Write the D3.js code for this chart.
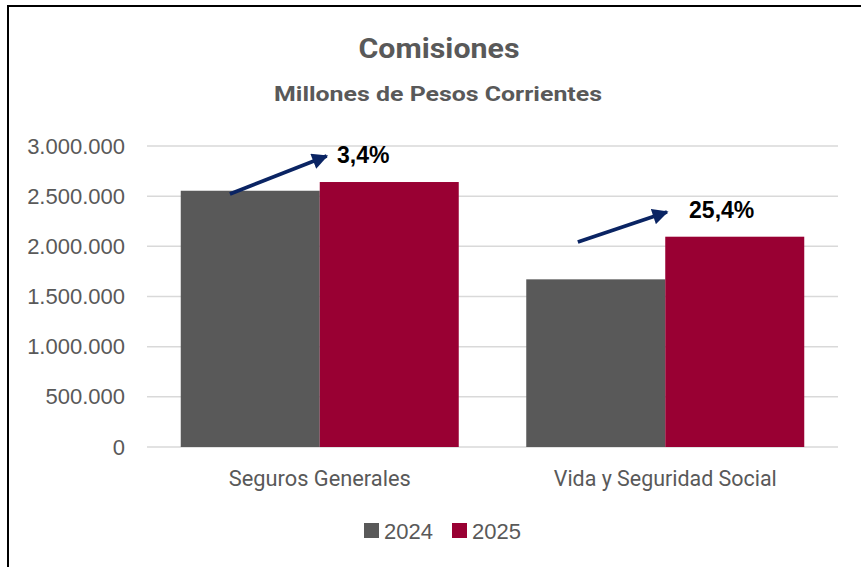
<!DOCTYPE html>
<html><head><meta charset="utf-8">
<script src="https://cdn.jsdelivr.net/npm/d3@7"></script>
<style>
body{margin:0;background:#fff;}
svg{display:block;}
</style></head>
<body>
<svg id="chart" width="861" height="567"></svg>
<script>
const categories = ["Seguros Generales", "Vida y Seguridad Social"];
const seriesNames = ["2024", "2025"];
const values2024 = [2554000, 1671000];
const values2025 = [2641000, 2096000];
const yTicks = [0, 500000, 1000000, 1500000, 2000000, 2500000, 3000000];
// arrow annotations: [band fraction, value] start and end
const arrowStart = [[0.24, 2522000], [0.247, 2043000]];
const arrowEnd = [[0.52, 2900000], [0.505, 2342000]];
const labelPos = [[0.55, 2830000], [0.569, 2282000]];

(function () {
const colors = ["#595959", "#990033"];
const aptosLike = "Roboto,'Noto Sans',sans-serif";
const sans = "'Liberation Sans',Arial,sans-serif";
const catWidths = [182, 223];

const svg = d3.select("#chart");
const W = 861, H = 567;
svg.append("rect").attr("width", W).attr("height", H).attr("fill", "#fff");
svg.append("path").attr("d", `M8,${H} L8,6 L${W},6`).attr("fill", "none").attr("stroke", "#000").attr("stroke-width", 2);

const pLeft = 147, pRight = 838, pTop = 146, pBottom = 447;
const x = d3.scaleBand().domain(categories).range([pLeft, pRight]).paddingInner(0).paddingOuter(0);
const y = d3.scaleLinear().domain([0, 3000000]).range([pBottom, pTop]);
const fmt = v => d3.format(",")(v).replace(/,/g, ".");

svg.append("g").selectAll("line").data(yTicks).join("line")
  .attr("x1", pLeft).attr("x2", pRight)
  .attr("y1", d => y(d)).attr("y2", d => y(d))
  .attr("stroke", "#d9d9d9").attr("stroke-width", 1.5);

const yAxis = d3.axisLeft(y).tickValues(yTicks).tickFormat(fmt).tickSize(0).tickPadding(22);
const ya = svg.append("g").attr("transform", `translate(${pLeft},0)`).call(yAxis);
ya.select(".domain").remove();
ya.selectAll("text").attr("font-family", sans).attr("font-size", 22).attr("fill", "#595959");

const barW = 139;
const sub = d3.scaleBand().domain(seriesNames).range([0, 2 * barW]);
const off = (x.bandwidth() - 2 * barW) / 2;
const data = categories.map((c, i) => ({c, vals: [values2024[i], values2025[i]]}));
const gBars = svg.append("g");
data.forEach(d => {
  d.vals.forEach((v, j) => {
    gBars.append("rect")
      .attr("x", x(d.c) + off + sub(seriesNames[j]))
      .attr("y", y(v))
      .attr("width", sub.bandwidth())
      .attr("height", y(0) - y(v))
      .attr("fill", colors[j]);
  });
});

const xAxis = d3.axisBottom(x).tickSize(0).tickPadding(23);
const xa = svg.append("g").attr("transform", `translate(0,${pBottom})`).call(xAxis);
xa.select(".domain").remove();
xa.selectAll("text").attr("font-family", aptosLike).attr("font-size", 22).attr("fill", "#595959")
  .attr("textLength", (d, i) => catWidths[i]).attr("lengthAdjust", "spacingAndGlyphs");

const defs = svg.append("defs");
defs.append("marker").attr("id", "ah").attr("viewBox", "0 0 10 10").attr("refX", 9).attr("refY", 5)
  .attr("markerWidth", 4.4).attr("markerHeight", 4.2).attr("orient", "auto").attr("markerUnits", "strokeWidth")
  .append("path").attr("d", "M0,0 L10,5 L0,10 Z").attr("fill", "#0a2463");
categories.forEach((c, i) => {
  const bx = x(c), bw = x.bandwidth();
  svg.append("line")
    .attr("x1", bx + arrowStart[i][0] * bw).attr("y1", y(arrowStart[i][1]))
    .attr("x2", bx + arrowEnd[i][0] * bw).attr("y2", y(arrowEnd[i][1]))
    .attr("stroke", "#0a2463").attr("stroke-width", 3.8).attr("marker-end", "url(#ah)");
  const pct = (values2025[i] / values2024[i] - 1) * 100;
  svg.append("text")
    .attr("x", bx + labelPos[i][0] * bw).attr("y", y(labelPos[i][1]))
    .attr("font-family", sans).attr("font-weight", "bold").attr("font-size", 23).attr("fill", "#000")
    .text(pct.toFixed(1).replace(".", ",") + "%");
});

svg.append("text").attr("x", 439).attr("y", 58).attr("text-anchor", "middle")
  .attr("font-family", aptosLike).attr("font-weight", "bold").attr("font-size", 28).attr("fill", "#595959")
  .attr("textLength", 161).attr("lengthAdjust", "spacingAndGlyphs")
  .text("Comisiones");
svg.append("text").attr("x", 438).attr("y", 101).attr("text-anchor", "middle")
  .attr("font-family", aptosLike).attr("font-weight", "bold").attr("font-size", 21).attr("fill", "#595959")
  .attr("textLength", 328).attr("lengthAdjust", "spacingAndGlyphs")
  .text("Millones de Pesos Corrientes");

const legX = [364, 452];
seriesNames.forEach((s, j) => {
  svg.append("rect").attr("x", legX[j]).attr("y", 523).attr("width", 15).attr("height", 15).attr("fill", colors[j]);
  svg.append("text").attr("x", legX[j] + 20).attr("y", 539)
    .attr("font-family", sans).attr("font-size", 22).attr("fill", "#595959").text(s);
});
})();
</script>
</body></html>
